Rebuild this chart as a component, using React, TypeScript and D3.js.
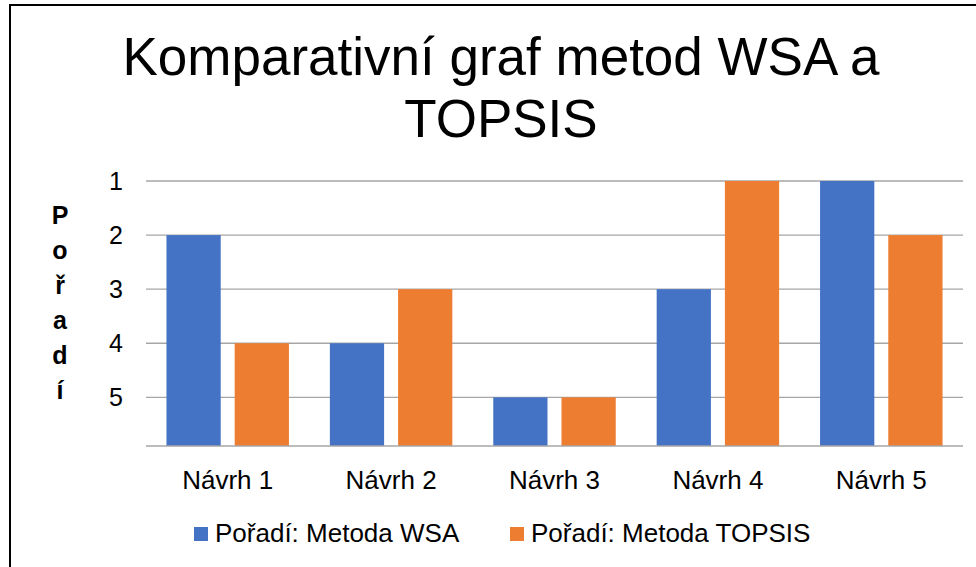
import { useEffect, useRef } from 'react';
import * as d3 from 'd3';

const categories = ['Návrh 1', 'Návrh 2', 'Návrh 3', 'Návrh 4', 'Návrh 5'];
const seriesNames = ['Pořadí: Metoda WSA', 'Pořadí: Metoda TOPSIS'];
const wsaRank = [2, 4, 5, 3, 1];
const topsisRank = [4, 3, 5, 1, 2];
const rankTicks = [1, 2, 3, 4, 5];
const colors = ['#4472C4', '#ED7D31'];
const titleLines = ['Komparativní graf metod WSA a', 'TOPSIS'];
const axisTitle = 'Pořadí';

const W = 976;
const H = 567;
const FONT = '"Liberation Sans", Arial, sans-serif';

export default function App() {
  const svgRef = useRef<SVGSVGElement>(null);

  useEffect(() => {
    if (!svgRef.current) return;
    const svg = d3.select(svgRef.current);
    svg.selectAll('*').remove();

    // outer frame
    svg.append('path')
      .attr('d', `M10,${H + 2} L10,5 L${W + 2},5`)
      .attr('fill', 'none')
      .attr('stroke', '#000')
      .attr('stroke-width', 2);

    // title
    svg.append('g')
      .selectAll('text')
      .data(titleLines)
      .enter()
      .append('text')
      .attr('x', 501)
      .attr('y', (d, i) => 75 + i * 62)
      .attr('text-anchor', 'middle')
      .style('font-family', FONT)
      .style('font-size', '53px')
      .style('fill', '#000')
      .text(d => d);

    const plot = { left: 146, right: 963, top: 181, bottom: 446 };

    const x0 = d3.scaleBand<string>()
      .domain(categories)
      .range([plot.left, plot.right])
      .padding(0);

    const x1 = d3.scaleBand<string>()
      .domain(seriesNames)
      .range([0, x0.bandwidth()])
      .paddingInner(0.205)
      .paddingOuter(0.3);

    // reversed rank axis: 1 at the top, bars grow from the bottom
    const y = d3.scaleLinear()
      .domain([1, 5.9])
      .range([plot.top, plot.bottom]);

    // gridlines
    svg.append('g')
      .selectAll('line')
      .data(rankTicks)
      .enter()
      .append('line')
      .attr('x1', plot.left)
      .attr('x2', plot.right)
      .attr('y1', d => y(d))
      .attr('y2', d => y(d))
      .attr('stroke', '#a6a6a6')
      .attr('stroke-width', 1.3);

    // tick labels
    svg.append('g')
      .selectAll('text')
      .data(rankTicks)
      .enter()
      .append('text')
      .attr('x', 116)
      .attr('y', d => y(d) + 9)
      .attr('text-anchor', 'middle')
      .style('font-family', FONT)
      .style('font-size', '25px')
      .style('fill', '#000')
      .text(d => d);

    const rows = categories.map((c, i) => ({ cat: c, values: [wsaRank[i], topsisRank[i]] }));

    const groups = svg.append('g')
      .selectAll('g')
      .data(rows)
      .enter()
      .append('g')
      .attr('transform', d => `translate(${x0(d.cat)},0)`);

    groups.selectAll('rect')
      .data(d => d.values.map((v, j) => ({ name: seriesNames[j], v, j })))
      .enter()
      .append('rect')
      .attr('x', d => x1(d.name) as number)
      .attr('width', x1.bandwidth())
      .attr('y', d => y(d.v))
      .attr('height', d => y(5.9) - y(d.v))
      .attr('fill', d => colors[d.j]);

    // baseline
    svg.append('line')
      .attr('x1', plot.left)
      .attr('x2', plot.right)
      .attr('y1', plot.bottom)
      .attr('y2', plot.bottom)
      .attr('stroke', '#a6a6a6')
      .attr('stroke-width', 1.3);

    // category labels
    svg.append('g')
      .selectAll('text')
      .data(categories)
      .enter()
      .append('text')
      .attr('x', d => (x0(d) as number) + x0.bandwidth() / 2)
      .attr('y', 489)
      .attr('text-anchor', 'middle')
      .style('font-family', FONT)
      .style('font-size', '26px')
      .style('fill', '#000')
      .text(d => d);

    // vertical axis title, one letter per line
    svg.append('g')
      .selectAll('text')
      .data(Array.from(axisTitle))
      .enter()
      .append('text')
      .attr('x', 60)
      .attr('y', (d, i) => 224 + i * 35)
      .attr('text-anchor', 'middle')
      .style('font-family', FONT)
      .style('font-size', '25px')
      .style('font-weight', 'bold')
      .style('fill', '#000')
      .text(d => d);

    // legend
    const legendX = [194, 510];
    const legend = svg.append('g')
      .selectAll('g')
      .data(seriesNames)
      .enter()
      .append('g')
      .attr('transform', (d, i) => `translate(${legendX[i]},527)`);

    legend.append('rect')
      .attr('width', 14)
      .attr('height', 14)
      .attr('fill', (d, i) => colors[i]);

    legend.append('text')
      .attr('x', 21)
      .attr('y', 15)
      .style('font-family', FONT)
      .style('font-size', '26px')
      .style('fill', '#000')
      .text(d => d);
  }, []);

  return (
    <svg
      ref={svgRef}
      width={W}
      height={H}
      style={{ position: 'fixed', left: 0, top: 0, background: '#fff', display: 'block' }}
    />
  );
}
